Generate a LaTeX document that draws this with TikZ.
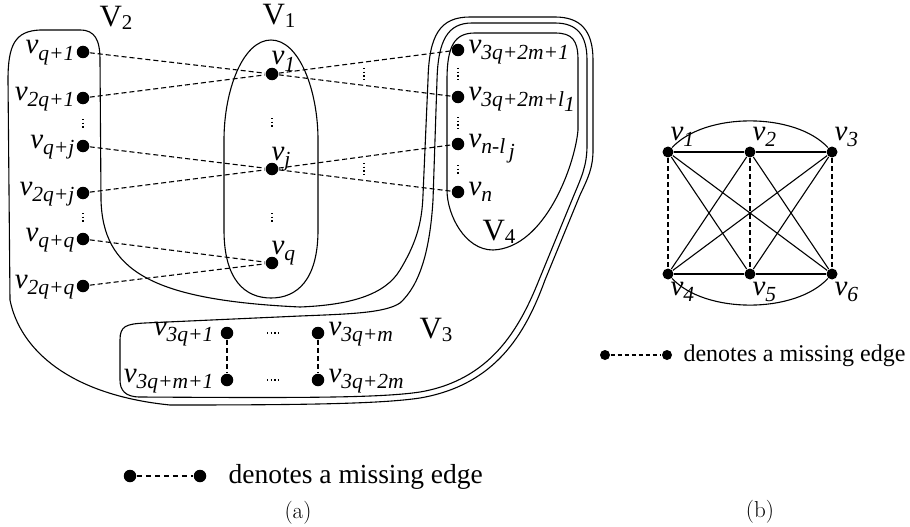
\documentclass[tikz,border=0pt]{standalone}
\usepackage{fontspec}
\newfontfamily\tnr{Liberation Serif}
\newcommand\lv[1]{{\tnr\itshape\fontsize{29}{32}\selectfont v\raisebox{-6.5pt}{\fontsize{21.5}{24}\selectfont #1}}}
\newcommand\lsub[1]{\raisebox{-5pt}{#1}}
\newcommand\SetV[1]{{\tnr\fontsize{31}{34}\selectfont V\raisebox{-3pt}{\fontsize{21}{23}\selectfont #1}}}
\begin{document}
\begin{tikzpicture}[x=1pt,y=-1pt,line width=1.1pt,
  dot/.style={circle,fill=black,draw=none,inner sep=0pt,minimum size=12.5pt},
  sdot/.style={circle,fill=black,draw=none,inner sep=0pt,minimum size=11pt},
  ldot/.style={circle,fill=black,draw=none,inner sep=0pt,minimum size=10pt},
  miss/.style={dash pattern=on 5pt off 3pt},
  vdots/.style={dash pattern=on 1.4pt off 2.2pt,line width=1.4pt},
  lab/.style={inner sep=0pt},
  setline/.style={line width=1.1pt}]
\useasboundingbox (0,0) rectangle (910,527);

% ---------- set outlines ----------
% V1
\draw[setline] (271,40) .. controls (243,40) and (224,90) .. (224,140) -- (224,230)
  .. controls (224,280) and (245,298) .. (271,298)
  .. controls (297,298) and (318,280) .. (318,230) -- (318,140)
  .. controls (318,90) and (299,40) .. (271,40) -- cycle;
% outer shape (V2 side)
\draw[setline] (8,80) .. controls (8,45) and (15,31) .. (40,30) -- (80,30)
  .. controls (95,30) and (100,40) .. (100,60) -- (101,200)
  .. controls (103,270) and (150,300) .. (300,307)
  .. controls (350,305) and (385,295) .. (400,270)
  .. controls (415,245) and (422,225) .. (423,195) -- (428,80)
  .. controls (429,35) and (440,17) .. (470,17) -- (555,17)
  .. controls (580,17) and (593,30) .. (593,60) -- (593,150)
  .. controls (593,168) and (588,178) .. (580,195) -- (545,280)
  .. controls (525,335) and (495,385) .. (420,398)
  .. controls (380,404) and (300,405) .. (170,405)
  .. controls (70,395) and (20,350) .. (10,300) -- (8,80) -- cycle;
% inner shape (V3 double line)
\draw[setline] (437,80) .. controls (438,40) and (448,23) .. (472,23) -- (555,23)
  .. controls (577,23) and (587,35) .. (587,60) -- (587,145)
  .. controls (587,165) and (582,176) .. (574,195) -- (539,280)
  .. controls (519,330) and (490,380) .. (420,392)
  .. controls (380,398) and (300,398) .. (140,397)
  .. controls (125,397) and (120,390) .. (120,380) -- (120,340)
  .. controls (120,326) and (126,324) .. (145,323) -- (300,316)
  .. controls (350,314) and (385,313) .. (400,303)
  .. controls (420,285) and (430,250) .. (433,200) -- (437,80) -- cycle;
% V4
\draw[setline] (447,80) .. controls (447,45) and (455,33) .. (475,33) -- (555,33)
  .. controls (572,33) and (578,40) .. (578,60) -- (578,130)
  .. controls (575,165) and (545,248) .. (493,250)
  .. controls (465,250) and (447,215) .. (447,190) -- (447,80) -- cycle;

% set labels
\node[lab,anchor=base west] (V2) at (99,27) {\SetV{2}};
\node[lab,anchor=base west] (V1) at (262,25) {\SetV{1}};
\node[lab,anchor=base west] (V3) at (419,338) {\SetV{3}};
\node[lab,anchor=base west] (V4) at (482,240) {\SetV{4}};

% ---------- vertices panel (a) ----------
\node[dot] (a1) at (83,52) {};
\node[dot] (a2) at (83,98) {};
\node[dot] (a3) at (83,146) {};
\node[dot] (a4) at (83,193) {};
\node[dot] (a5) at (83,239) {};
\node[dot] (a6) at (83,286) {};
\node[dot] (b1) at (272,74) {};
\node[dot] (bj) at (272,169) {};
\node[dot] (bq) at (272,263) {};
\node[dot] (d1) at (458,50) {};
\node[dot] (d2) at (458,97) {};
\node[dot] (d3) at (458,144) {};
\node[dot] (d4) at (458,192) {};
\node[dot] (c1) at (227,333) {};
\node[dot] (c2) at (318,333) {};
\node[dot] (c3) at (227,380) {};
\node[dot] (c4) at (318,380) {};

% labels
\node[lab,anchor=base east] (la1) at (75,54) {\lv{q+1}};
\node[lab,anchor=base east] (la2) at (75,100) {\lv{2q+1}};
\node[lab,anchor=base east] (la3) at (75,148) {\lv{q+j}};
\node[lab,anchor=base east] (la4) at (75,195) {\lv{2q+j}};
\node[lab,anchor=base east] (la5) at (75,241) {\lv{q+q}};
\node[lab,anchor=base east] (la6) at (75,288) {\lv{2q+q}};
\node[lab,anchor=base west] (lb1) at (271,65) {\lv{1}};
\node[lab,anchor=base west] (lbj) at (271,160) {\lv{j}};
\node[lab,anchor=base west] (lbq) at (271,254) {\lv{q}};
\node[lab,anchor=base west] (ld1) at (468,53) {\lv{3q+2m+1}};
\node[lab,anchor=base west] (ld2) at (468,100) {\lv{3q+2m+l\lsub{1}}};
\node[lab,anchor=base west] (ld3) at (468,147) {\lv{n-l\,\lsub{j}}};
\node[lab,anchor=base west] (ld4) at (468,195) {\lv{n}};
\node[lab,anchor=base east] (lc1) at (214,335) {\lv{3q+1}};
\node[lab,anchor=base west] (lc2) at (328,335) {\lv{3q+m}};
\node[lab,anchor=base east] (lc3) at (214,382) {\lv{3q+m+1}};
\node[lab,anchor=base west] (lc4) at (328,382) {\lv{3q+2m}};

% missing edges
\draw[miss] (a1) -- (b1);
\draw[miss] (b1) -- (d2);
\draw[miss] (a2) -- (b1);
\draw[miss] (b1) -- (d1);
\draw[miss] (a3) -- (bj);
\draw[miss] (bj) -- (d4);
\draw[miss] (a4) -- (bj);
\draw[miss] (bj) -- (d3);
\draw[miss] (a5) -- (bq);
\draw[miss] (a6) -- (bq);
\draw[miss] (c1) -- (c3);
\draw[miss] (c2) -- (c4);

% vertical / horizontal ellipsis marks
\draw[vdots] (83,119) -- (83,129);
\draw[vdots] (83,213) -- (83,223);
\draw[vdots] (272,118) -- (272,128);
\draw[vdots] (272,213) -- (272,223);
\draw[vdots] (458,68) -- (458,80);
\draw[vdots] (458,117) -- (458,128);
\draw[vdots] (458,165) -- (458,175);
\draw[vdots] (364,68) -- (364,82);
\draw[vdots] (364,163) -- (364,175);
\draw[vdots] (267,333) -- (281,333);
\draw[vdots] (267,380) -- (281,380);

% legend (a)
\node[dot] (ga) at (130,476) {};
\node[dot] (gb) at (200,476) {};
\draw[dash pattern=on 5pt off 4pt] (ga) -- (gb);
\node[lab,anchor=base west] (gt) at (228,483) {\tnr\fontsize{27.5}{30}\selectfont denotes a missing edge};

% ---------- panel (b) ----------
\node[sdot] (p1) at (668,152) {};
\node[sdot] (p2) at (750,152) {};
\node[sdot] (p3) at (832,152) {};
\node[sdot] (p4) at (668,274) {};
\node[sdot] (p5) at (750,274) {};
\node[sdot] (p6) at (832,274) {};
\node[lab,anchor=base west] (q1) at (670,140) {\lv{1}};
\node[lab,anchor=base west] (q2) at (752,140) {\lv{2}};
\node[lab,anchor=base west] (q3) at (834,140) {\lv{3}};
\node[lab,anchor=base west] (q4) at (670,295) {\lv{4}};
\node[lab,anchor=base west] (q5) at (752,295) {\lv{5}};
\node[lab,anchor=base west] (q6) at (834,295) {\lv{6}};
\draw (p1) -- (p2);
\draw (p2) -- (p3);
\draw (p4) -- (p5);
\draw (p5) -- (p6);
\draw (p1) -- (p5);
\draw (p1) -- (p6);
\draw (p2) -- (p4);
\draw (p2) -- (p6);
\draw (p3) -- (p4);
\draw (p3) -- (p5);
\draw (p1) .. controls (705,112) and (795,112) .. (p3);
\draw (p4) .. controls (705,314) and (795,314) .. (p6);
\draw[miss] (p1) -- (p4);
\draw[miss] (p2) -- (p5);
\draw[miss] (p3) -- (p6);

% legend (b)
\node[ldot] (gc) at (605,355) {};
\node[ldot] (gd) at (667,355) {};
\draw[dash pattern=on 4pt off 3pt] (gc) -- (gd);
\node[lab,anchor=base west] (gt2) at (683,361) {\tnr\fontsize{24}{27}\selectfont denotes a missing edge};

% captions
\node (capa) at (298,513) {\fontsize{23}{27}\selectfont (a)};
\node (capb) at (760,512) {\fontsize{23}{27}\selectfont (b)};
\end{tikzpicture}
\end{document}
